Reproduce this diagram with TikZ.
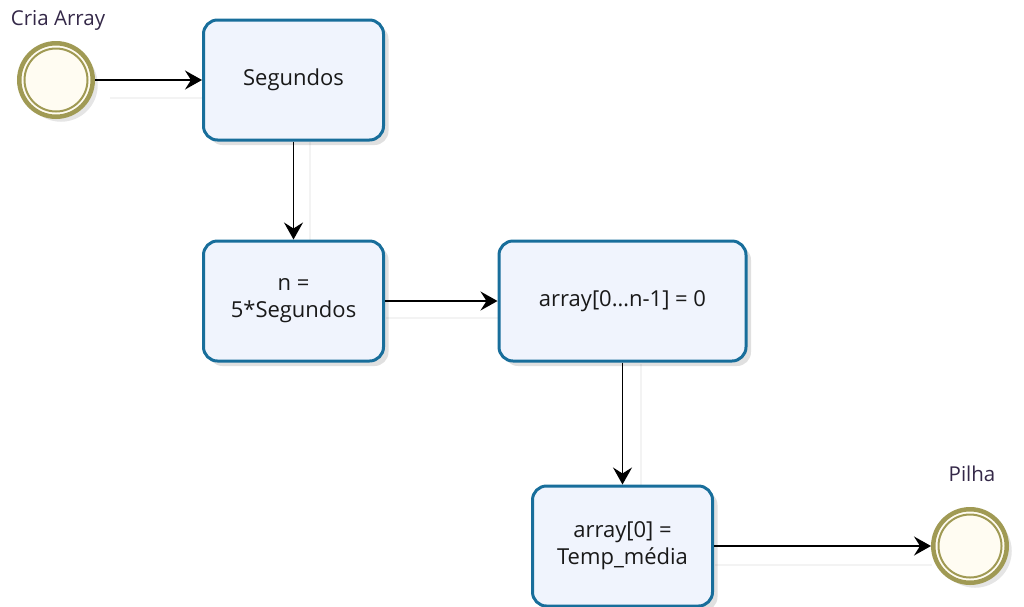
\documentclass[tikz,border=0pt]{standalone}
\usepackage{fontspec}
\setmainfont{Open Sans}
\usetikzlibrary{arrows.meta,shadows}
\definecolor{taskblue}{RGB}{24,110,155}
\definecolor{taskfill}{RGB}{240,244,253}
\definecolor{ringolive}{RGB}{160,154,84}
\definecolor{eventfill}{RGB}{255,252,242}
\definecolor{labelink}{RGB}{52,40,72}
\definecolor{ghostgray}{RGB}{243,243,243}
\tikzset{
  task/.style={draw=taskblue, line width=3pt, fill=taskfill, rounded corners=14pt,
    minimum width=180pt, minimum height=120pt, align=center, inner sep=0pt,
    font=\fontsize{22}{27}\selectfont, text=black!90,
    drop shadow={shadow xshift=5pt, shadow yshift=-5pt, opacity=0.12, fill=black}},
  wide/.style={minimum width=247pt},
  event/.style={circle, draw=ringolive, line width=4.5pt, fill=eventfill,
    minimum size=73.5pt, inner sep=0pt,
    drop shadow={shadow xshift=5pt, shadow yshift=-5pt, opacity=0.10, fill=black}},
  innerring/.style={circle, draw=ringolive, line width=2pt, minimum size=63pt, inner sep=0pt},
  evlabel/.style={font=\fontsize{20.5}{24}\selectfont, text=labelink},
  flow/.style={line width=1.8pt, draw=black,
    -{Stealth[length=17pt,width=19pt,inset=6pt]}},
  ghost/.style={line width=2pt, draw=ghostgray}
}
\begin{document}
\begin{tikzpicture}[x=1pt,y=-1pt]
\useasboundingbox (0,0) rectangle (1024,606);

% faint offset copies of the sequence flows
\draw[ghost] (110,98) -- (203,98);
\draw[ghost] (310,142) -- (310,240);
\draw[ghost] (386,318) -- (498,318);
\draw[ghost] (641,364) -- (641,485);
\draw[ghost] (715,565) -- (932,565);

% events
\node[event] (start) at (56,80) {};
\node[innerring] at (start.center) {};
\node[evlabel] (startlbl) at (58,20) {Cria Array};

\node[event] (end) at (970,546) {};
\node[innerring] at (end.center) {};
\node[evlabel] (endlbl) at (972,474) {Pilha};

% tasks
\node[task] (seg) at (293.5,80) {Segundos};
\node[task] (n) at (293.5,301) {n =\\5*Segundos};
\node[task, wide] (arr) at (622.5,301) {array[0…n-1] = 0};
\node[task] (first) at (622.5,546) {array[0] =\\Temp\_média};

% sequence flows
\draw[flow] (start.east) -- (seg.west);
\draw[flow] (seg.south) -- (n.north);
\draw[flow] (n.east) -- (arr.west);
\draw[flow] (arr.south) -- (first.north);
\draw[flow] (first.east) -- (end.west);
\end{tikzpicture}
\end{document}
